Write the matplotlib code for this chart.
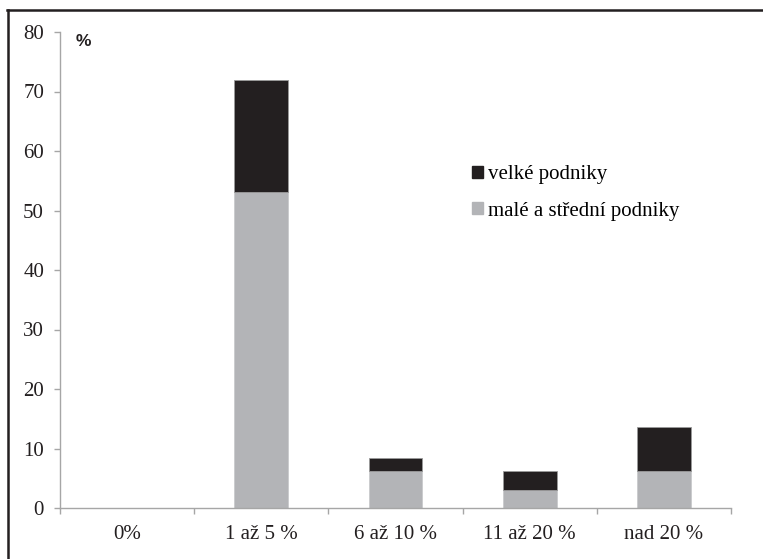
import matplotlib
matplotlib.use("Agg")
import matplotlib.pyplot as plt
from matplotlib.patches import Patch
from matplotlib.lines import Line2D
from matplotlib.ticker import FixedLocator

# podíl podniků podle velikosti (v %)
kategorie = ["0%", "1 až 5 %", "6 až 10 %", "11 až 20 %", "nad 20 %"]
male_a_stredni = [0, 53.1, 6.25, 3.1, 6.25]
velke = [0, 18.75, 2.1, 3.1, 7.3]
y_ticks = [0, 10, 20, 30, 40, 50, 60, 70, 80]

cerna = "#231f20"
seda = "#b3b4b7"
osa = "#a6a6a6"

plt.rcParams["font.family"] = ["Liberation Serif", "DejaVu Serif"]

W, H = 763, 559
fig = plt.figure(figsize=(W / 100, H / 100), dpi=100)
ax = fig.add_axes([60 / W, (H - 508) / H, (731 - 60) / W, (508 - 32) / H])

x = [i + 0.5 for i in range(len(kategorie))]
ax.bar(x, male_a_stredni, width=0.4, color=seda, edgecolor="#c9cacc", linewidth=0.6)
ax.bar(x, velke, width=0.4, bottom=male_a_stredni, color=cerna,
       edgecolor="#9a9a9a", linewidth=0.6)

ax.set_xlim(0, len(kategorie))
ax.set_ylim(0, 80)
ax.set_yticks(y_ticks)
ax.set_xticks(x)
ax.set_xticklabels(kategorie)
ax.xaxis.set_minor_locator(FixedLocator(range(len(kategorie) + 1)))

for s in ["top", "right"]:
    ax.spines[s].set_visible(False)
for s in ["left", "bottom"]:
    ax.spines[s].set_color(osa)
    ax.spines[s].set_linewidth(1.0)

ax.tick_params(axis="y", direction="out", length=4.5, width=1.0, color=osa,
               labelsize=15, pad=7, labelcolor="#231f20")
ax.tick_params(axis="x", which="major", length=0, labelsize=15, pad=12,
               labelcolor="#231f20")
ax.tick_params(axis="x", which="minor", direction="out", length=4.5, width=1.0,
               color=osa)

ax.text(76 / W, (H - 42) / H, "%", transform=fig.transFigure, ha="left",
        va="center", fontsize=12.5, fontweight="bold", family="Liberation Sans",
        color="#231f20")

handles = [Patch(facecolor=cerna, edgecolor=cerna, label="velké podniky"),
           Patch(facecolor=seda, edgecolor=seda, label="malé a střední podniky")]
ax.legend(handles=handles, loc="upper left", bbox_to_anchor=(472 / W, (H - 165) / H),
          bbox_transform=fig.transFigure, frameon=False, fontsize=15,
          handlelength=0.52, handleheight=0.52, handletextpad=0.25,
          labelspacing=0.85, borderpad=0, borderaxespad=0)

# rámeček kolem obrázku
fig.add_artist(Line2D([7.5 / W, 7.5 / W], [0, (H - 10) / H], color="#231f20",
                      linewidth=1.8, transform=fig.transFigure))
fig.add_artist(Line2D([6.5 / W, 1], [(H - 10) / H, (H - 10) / H], color="#231f20",
                      linewidth=1.8, transform=fig.transFigure))

fig.savefig("out.png", dpi=100)
